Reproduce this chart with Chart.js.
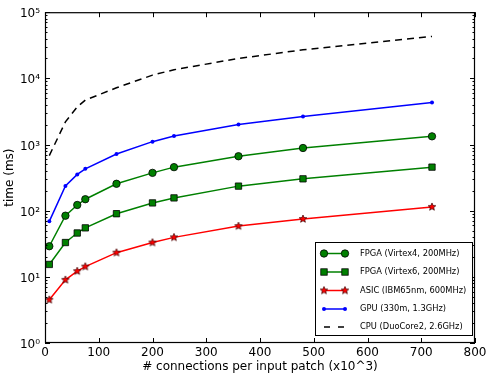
<!DOCTYPE html>
<html lang="en">
<head>
<meta charset="UTF-8">
<title>time vs connections per input patch</title>
<script src="https://cdn.jsdelivr.net/npm/chart.js"></script>
<style>
  body { margin: 0; background: #fff; }
  #wrap { width: 490px; height: 376px; }
</style>
</head>
<body>
<div id="wrap"><canvas id="chart" width="490" height="376"></canvas></div>
<script>
// data (x in thousands of connections, y in ms)
const connections = [8, 38, 60, 75, 133, 200, 240, 360, 480, 720];
const fpgaV4 = [29, 84, 122, 149, 255, 373, 455, 665, 886, 1330];
const fpgaV6 = [15.4, 33, 46, 55, 90, 131, 156, 235, 303, 455];
const asic   = [4.5, 9.0, 12.2, 14.3, 23.2, 33, 39.5, 58.5, 75, 114];
const gpu    = [69, 236, 353, 429, 720, 1105, 1343, 2010, 2650, 4300];
const cpu    = [680, 2200, 3700, 4700, 7200, 11200, 13500, 20000, 27000, 43000];

const seriesLabels = [
  'FPGA (Virtex4, 200MHz)',
  'FPGA (Virtex6, 200MHz)',
  'ASIC (IBM65nm, 600MHz)',
  'GPU (330m, 1.3GHz)',
  'CPU (DuoCore2, 2.6GHz)'
];
const xTicks = [0, 100, 200, 300, 400, 500, 600, 700, 800];
const yDecades = [1, 10, 100, 1000, 10000, 100000];
const sup = ['⁰', '¹', '²', '³', '⁴', '⁵'];

const GREEN = '#008000', RED = '#ff0000', BLUE = '#0000ff';
const FONT = 'DejaVu Sans';

function pts(ys) {
  return connections.map((x, i) => ({ x: x, y: ys[i] }));
}

// filled five point star, like matplotlib's '*' marker
function makeStar(r) {
  const s = Math.ceil(r * 2 + 2);
  const c = document.createElement('canvas');
  c.width = s; c.height = s;
  const g = c.getContext('2d');
  g.beginPath();
  for (let i = 0; i < 10; i++) {
    const ang = -Math.PI / 2 + i * Math.PI / 5;
    const rr = i % 2 === 0 ? r : r * 0.45;
    g.lineTo(s / 2 + rr * Math.cos(ang), s / 2 + rr * Math.sin(ang));
  }
  g.closePath();
  g.fillStyle = RED; g.fill();
  g.strokeStyle = '#300'; g.lineWidth = 0.7; g.stroke();
  return c;
}
const star = makeStar(4);

// frame box + inward ticks on all four sides
const frameTicks = {
  id: 'frameTicks',
  afterDatasetsDraw(chart) {
    const { ctx, chartArea: a, scales: { x, y } } = chart;
    ctx.save();
    ctx.strokeStyle = '#000';
    ctx.lineWidth = 1;
    ctx.beginPath();
    xTicks.forEach(v => {
      const px = Math.round(x.getPixelForValue(v)) + 0.5;
      ctx.moveTo(px, a.bottom); ctx.lineTo(px, a.bottom - 5);
      ctx.moveTo(px, a.top); ctx.lineTo(px, a.top + 5);
    });
    yDecades.forEach(d => {
      for (let m = 1; m <= 9; m++) {
        const v = d * m;
        if (v > 100000) break;
        const py = Math.round(y.getPixelForValue(v)) + 0.5;
        const len = m === 1 ? 5 : 2.5;
        ctx.moveTo(a.left, py); ctx.lineTo(a.left + len, py);
        ctx.moveTo(a.right, py); ctx.lineTo(a.right - len, py);
      }
    });
    ctx.stroke();
    ctx.lineWidth = 1.2;
    ctx.strokeRect(a.left + 0.5, a.top + 0.5, a.width - 1, a.height - 1);
    ctx.restore();
  }
};

// legend box in the lower right, matplotlib style (two markers per sample)
const boxLegend = {
  id: 'boxLegend',
  afterDraw(chart) {
    const ctx = chart.ctx;
    const bx = 315, by = 242, bw = 157, bh = 93;
    ctx.save();
    ctx.fillStyle = '#fff';
    ctx.fillRect(bx, by, bw, bh);
    ctx.strokeStyle = '#000';
    ctx.lineWidth = 1;
    ctx.strokeRect(bx + 0.5, by + 0.5, bw, bh);

    const x0 = 324, x1 = 345, tx = 360;
    const rows = [253.5, 272, 290.5, 309, 327];
    ctx.font = '8.3px "' + FONT + '"';
    ctx.textBaseline = 'middle';
    ctx.textAlign = 'left';
    rows.forEach((ry, i) => {
      ctx.lineWidth = 1.5;
      if (i < 4) {
        ctx.strokeStyle = [GREEN, GREEN, RED, BLUE][i];
        ctx.beginPath(); ctx.moveTo(x0, ry); ctx.lineTo(x1, ry); ctx.stroke();
        [x0, x1].forEach(mx => {
          ctx.lineWidth = 0.8;
          ctx.strokeStyle = '#000';
          if (i === 0) {
            ctx.fillStyle = GREEN;
            ctx.beginPath(); ctx.arc(mx, ry, 3.7, 0, Math.PI * 2); ctx.fill(); ctx.stroke();
          } else if (i === 1) {
            ctx.fillStyle = GREEN;
            ctx.fillRect(mx - 3.2, ry - 3.2, 6.4, 6.4); ctx.strokeRect(mx - 3.2, ry - 3.2, 6.4, 6.4);
          } else if (i === 2) {
            ctx.drawImage(star, mx - star.width / 2, ry - star.height / 2);
          } else {
            ctx.fillStyle = BLUE;
            ctx.beginPath(); ctx.arc(mx, ry, 2, 0, Math.PI * 2); ctx.fill();
          }
        });
      } else {
        ctx.strokeStyle = '#000';
        ctx.beginPath();
        ctx.moveTo(x0, ry); ctx.lineTo(x0 + 6, ry);
        ctx.moveTo(x1 - 7, ry); ctx.lineTo(x1 - 1, ry);
        ctx.stroke();
      }
      ctx.fillStyle = '#000';
      ctx.fillText(seriesLabels[i], tx, ry);
    });
    ctx.restore();
  }
};

new Chart(document.getElementById('chart'), {
  type: 'line',
  data: {
    datasets: [
      { label: seriesLabels[0], data: pts(fpgaV4), borderColor: GREEN, backgroundColor: GREEN,
        pointStyle: 'circle', pointRadius: 3.7, pointBorderColor: '#000', pointBorderWidth: 0.8 },
      { label: seriesLabels[1], data: pts(fpgaV6), borderColor: GREEN, backgroundColor: GREEN,
        pointStyle: 'rect', pointRadius: 4.5, pointBorderColor: '#000', pointBorderWidth: 0.8 },
      { label: seriesLabels[2], data: pts(asic), borderColor: RED, backgroundColor: RED,
        pointStyle: star, pointRadius: 4 },
      { label: seriesLabels[3], data: pts(gpu), borderColor: BLUE, backgroundColor: BLUE,
        pointStyle: 'circle', pointRadius: 2, pointBorderColor: BLUE, pointBorderWidth: 0 },
      { label: seriesLabels[4], data: pts(cpu), borderColor: '#000', borderDash: [7, 5],
        pointRadius: 0 }
    ]
  },
  options: {
    responsive: false,
    animation: false,
    devicePixelRatio: 1,
    layout: { padding: { top: 10, right: 15, left: 0, bottom: 0 } },
    elements: { line: { borderWidth: 1.5, tension: 0, fill: false } },
    plugins: { legend: { display: false }, tooltip: { enabled: false } },
    scales: {
      x: {
        type: 'linear', min: 0, max: 800,
        grid: { display: false, drawTicks: false },
        border: { display: false },
        afterFit: s => { s.height = 33; },
        afterBuildTicks: s => { s.ticks = xTicks.map(v => ({ value: v })); },
        ticks: { color: '#000', padding: 3, font: { family: FONT, size: 12 }, maxRotation: 0 },
        title: { display: true, text: '# connections per input patch (x10^3)', color: '#000',
                 font: { family: FONT, size: 12 }, padding: { top: 0, bottom: 2 } }
      },
      y: {
        type: 'logarithmic', min: 1, max: 100000,
        grid: { display: false, drawTicks: false },
        border: { display: false },
        afterFit: s => { s.width = 45; },
        afterBuildTicks: s => { s.ticks = yDecades.map(v => ({ value: v, major: true })); },
        ticks: { color: '#000', padding: 5, labelOffset: 2, autoSkip: false,
                 font: { family: FONT, size: 12 },
                 callback: v => '10' + sup[Math.round(Math.log10(v))] },
        title: { display: true, text: 'time (ms)', color: '#000',
                 font: { family: FONT, size: 12 }, padding: { top: 3, bottom: 0 } }
      }
    }
  },
  plugins: [frameTicks, boxLegend]
});
</script>
</body>
</html>
